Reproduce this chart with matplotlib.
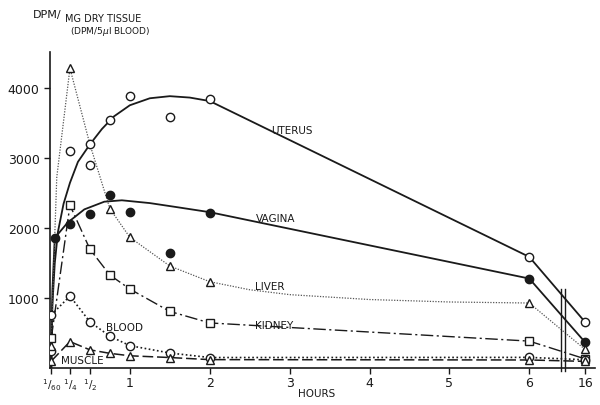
import matplotlib.pyplot as plt
from matplotlib.lines import Line2D

# sampling times (hours); 16 h sits to the right of the axis break
hours = [1/60, 1/4, 1/2, 3/4, 1, 1.5, 2, 6, 16]
tick_hours = [1/60, 1/4, 1/2, 1, 2, 3, 4, 5, 6, 16]
tick_labels = [r'$^1/_{60}$', r'$^1/_4$', r'$^1/_2$', '1', '2', '3', '4', '5', '6', '16']

# measured points
uterus_hours = [1/60, 1/4, 1/2, 1/2, 3/4, 1, 1.5, 2, 6, 16]
uterus = [250, 3100, 3200, 2900, 3550, 3890, 3590, 3850, 1590, 656]
vagina_hours = [0.06, 1/4, 1/2, 3/4, 1, 1.5, 2, 6, 16]
vagina = [1860, 2055, 2205, 2475, 2230, 1650, 2215, 1280, 367]
liver_hours = [1/60, 1/4, 3/4, 1, 1.5, 2, 6, 16]
liver = [320, 4290, 2280, 1870, 1460, 1235, 930, 265]
kidney = [430, 2330, 1700, 1330, 1130, 810, 645, 385, 130]
blood = [760, 1030, 660, 455, 320, 215, 150, 152, 118]
muscle = [100, 378, 260, 210, 175, 150, 120, 115, 95]

# hand drawn fitted curves
uterus_curve_h = [1/60, 0.03, 0.06, 0.1, 0.17, 0.25, 0.35, 0.5, 0.65, 0.8, 1.0,
                  1.25, 1.5, 1.75, 2.0, 6, 16]
uterus_curve = [0, 900, 1500, 1950, 2350, 2650, 2950, 3200, 3420, 3600, 3760,
                3860, 3890, 3870, 3820, 1590, 656]
vagina_curve_h = [1/60, 0.03, 0.06, 0.11, 0.22, 0.43, 0.68, 0.9, 1.25, 1.6, 2.0, 6, 16]
vagina_curve = [0, 1100, 1860, 1930, 2080, 2270, 2380, 2400, 2360, 2300, 2230, 1280, 367]
liver_curve_h = [1/60, 0.04, 0.06, 0.085, 1/4, 1/2, 3/4, 1, 1.5, 2, 2.5, 3, 4, 5, 6, 16]
liver_curve = [320, 1200, 1900, 2730, 4290, 3200, 2280, 1870, 1460, 1235, 1120,
               1050, 980, 945, 930, 265]


def pos(h):
    # broken axis: 16 h is drawn just past the break
    return h if h <= 6 else 6.7


def xs(hs):
    return [pos(h) for h in hs]


fig = plt.figure(figsize=(6, 4.06), dpi=100)
ax = fig.add_axes([0.0833, 0.0911, 0.908, 0.778])
ink = '#1a1a1a'

ax.plot(xs(uterus_curve_h), uterus_curve, color=ink, lw=1.3)
ax.plot(xs(vagina_curve_h), vagina_curve, color=ink, lw=1.3)
ax.plot(xs(liver_curve_h), liver_curve, color='#555555', lw=0.9, ls=(0, (1, 1.2)))
ax.plot(xs(hours), kidney, color=ink, lw=1.0, ls=(0, (9, 2.5, 1.5, 2.5)))
ax.plot(xs(hours), blood, color=ink, lw=1.2, ls=(0, (1, 1.5)))
ax.plot(xs(hours), muscle, color=ink, lw=1.1, ls=(0, (7, 2.5)))

mk = dict(ls='none', ms=6, mew=1.0, mec=ink, zorder=5)
ax.plot(xs(uterus_hours), uterus, marker='o', mfc='white', **mk)
ax.plot(xs(vagina_hours), vagina, marker='o', mfc=ink, **mk)
ax.plot(xs(liver_hours), liver, marker='^', mfc='white', **mk)
ax.plot(xs(hours), kidney, marker='s', mfc='white', **mk)
ax.plot(xs(hours), blood, marker='o', mfc='white', **mk)
ax.plot(xs(hours), muscle, marker='^', mfc='white', **mk)

# axis break
for bx in (6.40, 6.45):
    ax.add_line(Line2D([bx, bx], [-40, 1130], color=ink, lw=1.0, clip_on=False, zorder=6))

ax.set_xlim(0, 6.82)
ax.set_ylim(0, 4520)
ax.set_xticks(xs(tick_hours))
ax.set_xticklabels(tick_labels, fontsize=9)
for t in ax.get_xticklabels()[:3]:
    t.set_fontsize(7.5)
ax.set_yticks([1000, 2000, 3000, 4000])
ax.set_yticklabels(['1000', '2000', '3000', '4000'], fontsize=9)
ax.tick_params(direction='out', length=4, width=1, colors=ink)
ax.tick_params(axis='x', pad=2)
for s in ['top', 'right']:
    ax.spines[s].set_visible(False)
for s in ['left', 'bottom']:
    ax.spines[s].set_linewidth(1.2)
    ax.spines[s].set_color(ink)

lab = dict(fontsize=7.5, color=ink, ha='left', va='center')
ax.text(2.77, 3400, 'UTERUS', **lab)
ax.text(2.58, 2140, 'VAGINA', **lab)
ax.text(2.57, 1170, 'LIVER', **lab)
ax.text(2.57, 620, 'KIDNEY', **lab)
ax.text(0.70, 590, 'BLOOD', **lab)
ax.text(0.14, 115, 'MUSCLE', **lab)

fig.text(0.055, 0.963, 'DPM/', fontsize=8, color=ink, ha='left', va='center')
fig.text(0.108, 0.952, 'MG DRY TISSUE', fontsize=7, color=ink, ha='left', va='center')
fig.text(0.117, 0.922, r'(DPM/5$\mu$l BLOOD)', fontsize=6.5, color=ink, ha='left', va='center')
fig.text(0.527, 0.03, 'HOURS', fontsize=7.5, color=ink, ha='center', va='center')

fig.savefig('out.png', dpi=100)
